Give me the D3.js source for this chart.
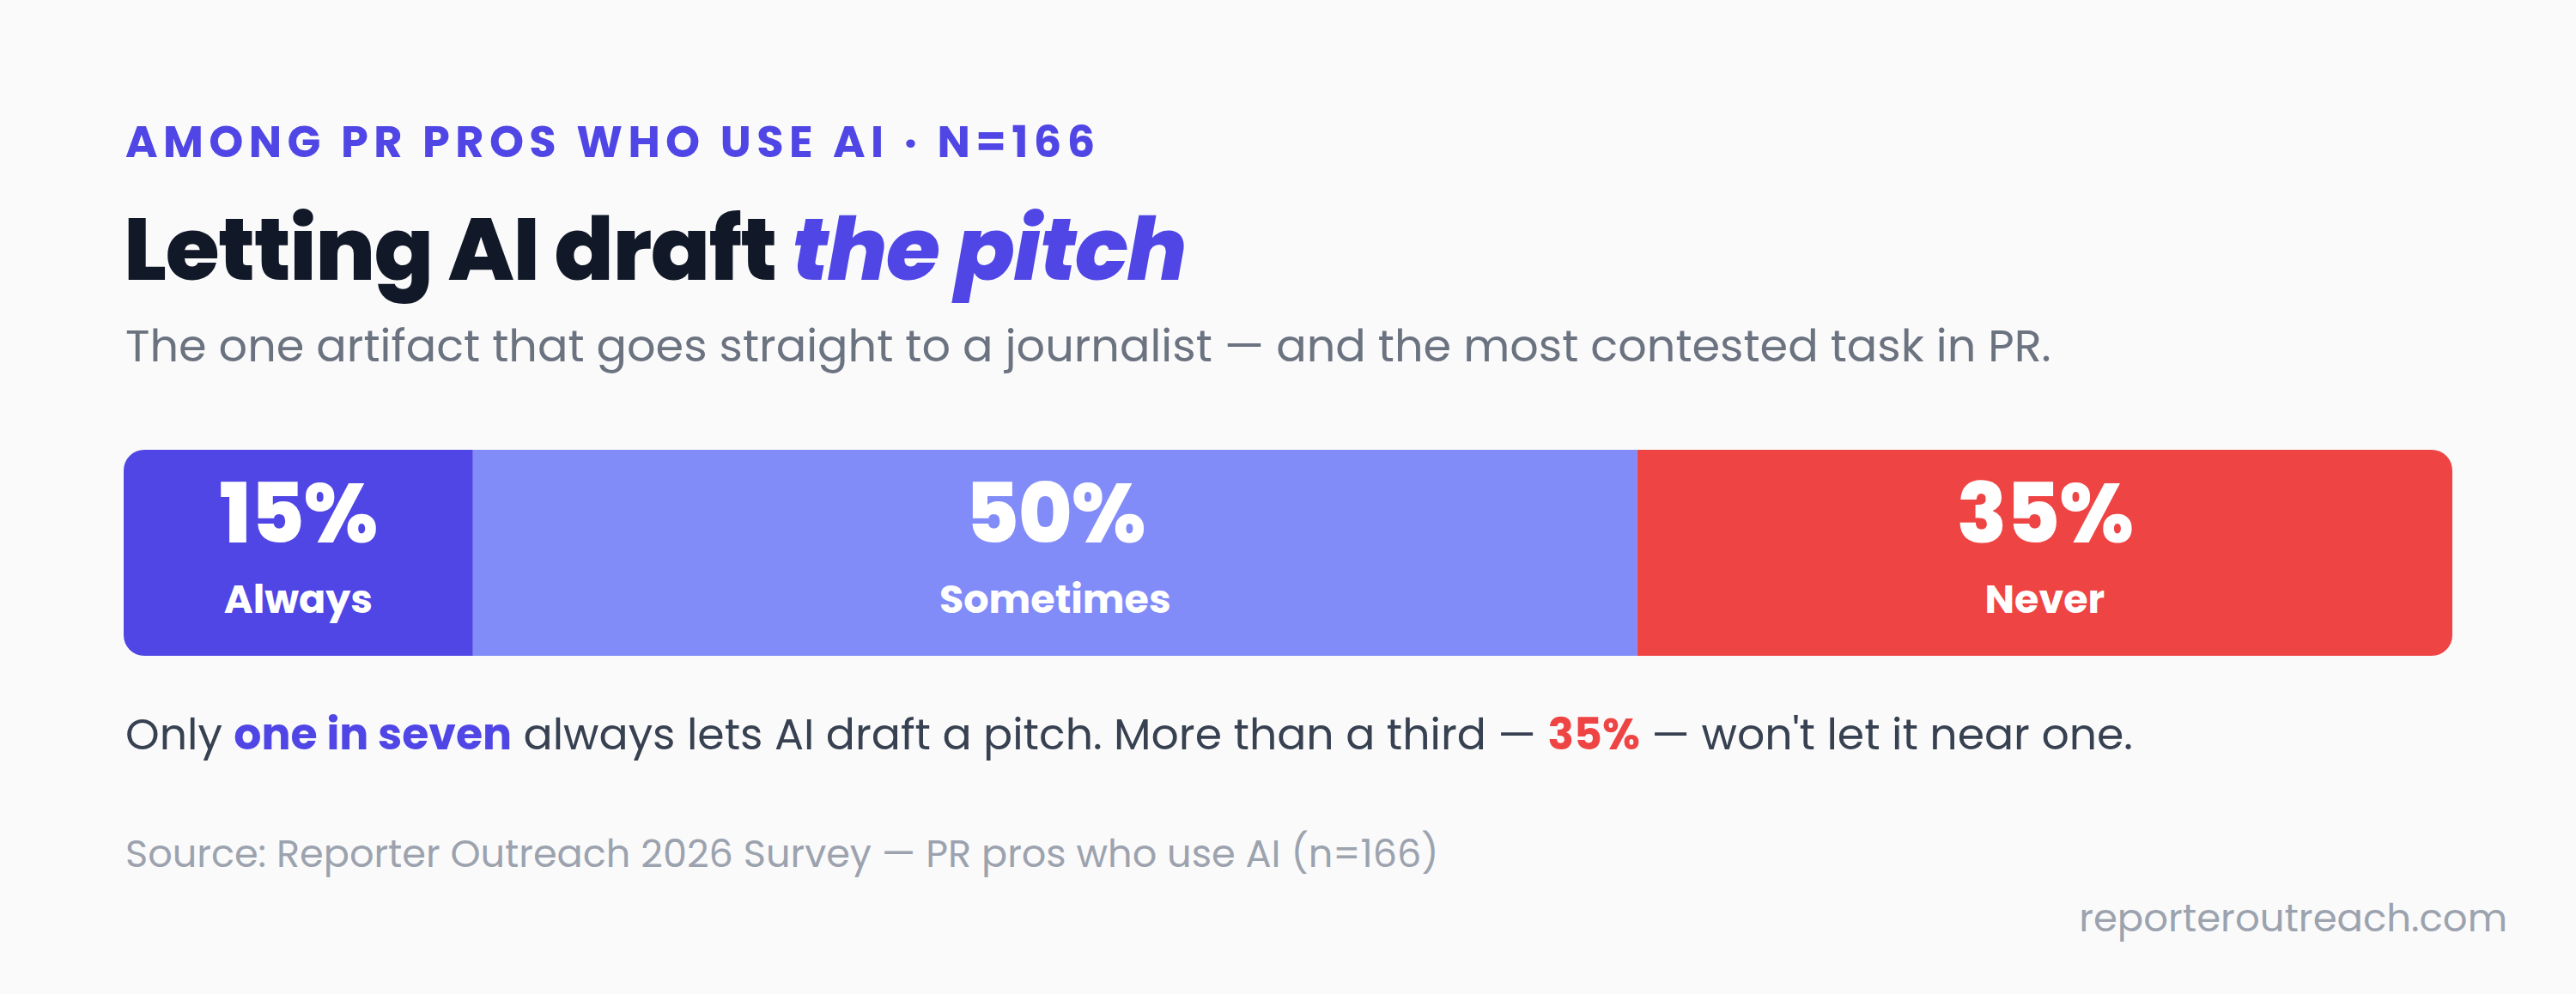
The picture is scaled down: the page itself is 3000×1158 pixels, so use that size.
<!DOCTYPE html>
<html><head><meta charset="utf-8">
<script src="https://cdn.jsdelivr.net/npm/d3@7"></script>
<style>
html,body{margin:0;padding:0;background:#FAFAFA;}
text{font-family:Poppins,Inter,"Noto Sans",sans-serif;}
</style></head>
<body><svg id="c" width="3000" height="1158"></svg>
<script>
const categories = ["Always", "Sometimes", "Never"];
const values = [15, 50, 35];
const colors = ["#4F46E5", "#818CF8", "#EF4444"];

const svg = d3.select("#c");
svg.append("rect").attr("width",3000).attr("height",1158).attr("fill","#FAFAFA");

svg.append("text").attr("x",146).attr("y",183).attr("fill","#4F46E5")
  .attr("font-size",51).attr("font-weight",700).attr("letter-spacing",6.4)
  .text("AMONG PR PROS WHO USE AI · N=166");

const t = svg.append("text").attr("x",144).attr("y",326).attr("font-size",102)
  .attr("font-weight",800).attr("letter-spacing",-1.4).attr("fill","#111827");
t.append("tspan").text("Letting AI draft ");
t.append("tspan").attr("fill","#4F46E5").attr("font-style","italic").text("the pitch");

svg.append("text").attr("x",146).attr("y",421).attr("font-size",52.5).attr("fill","#6B7280")
  .text("The one artifact that goes straight to a journalist — and the most contested task in PR.");

const x = d3.scaleLinear().domain([0, d3.sum(values)]).range([144, 2856]);
const y0 = 524, y1 = 764, r = 24;
const starts = d3.cumsum([0, ...values]);
const clip = svg.append("defs").append("clipPath").attr("id","bar");
clip.append("rect").attr("x",x(0)).attr("y",y0).attr("width",x(100)-x(0)).attr("height",y1-y0).attr("rx",r);
const g = svg.append("g").attr("clip-path","url(#bar)");
const segs = categories.map((c,i)=>({c, v:values[i], s:starts[i], col:colors[i]}));
g.selectAll("rect").data(segs).join("rect")
  .attr("x",d=>x(d.s)).attr("y",y0).attr("width",d=>x(d.s+d.v)-x(d.s)).attr("height",y1-y0)
  .attr("fill",d=>d.col);
svg.selectAll(".pct").data(segs).join("text")
  .attr("x",d=>(x(d.s)+x(d.s+d.v))/2).attr("y",632).attr("text-anchor","middle")
  .attr("fill","#fff").attr("font-size",96).attr("font-weight",800).attr("letter-spacing",-1)
  .text(d=>d.v+"%");
svg.selectAll(".lab").data(segs).join("text")
  .attr("x",d=>(x(d.s)+x(d.s+d.v))/2).attr("y",714).attr("text-anchor","middle")
  .attr("fill","#fff").attr("font-size",46).attr("font-weight",700)
  .text(d=>d.c);

const a = svg.append("text").attr("x",146).attr("y",873).attr("font-size",50.5).attr("fill","#374151");
a.append("tspan").text("Only ");
a.append("tspan").attr("fill","#4F46E5").attr("font-weight",700).text("one in seven");
a.append("tspan").text(" always lets AI draft a pitch. More than a third — ");
a.append("tspan").attr("fill","#EF4444").attr("font-weight",700).text(values[2]+"%");
a.append("tspan").text(" — won't let it near one.");

svg.append("text").attr("x",146).attr("y",1010).attr("font-size",44.6).attr("fill","#9CA3AF")
  .text("Source: Reporter Outreach 2026 Survey — PR pros who use AI (n=166)");
svg.append("text").attr("x",2920).attr("y",1085).attr("text-anchor","end").attr("font-size",45).attr("fill","#9CA3AF")
  .text("reporteroutreach.com");
</script></body></html>
